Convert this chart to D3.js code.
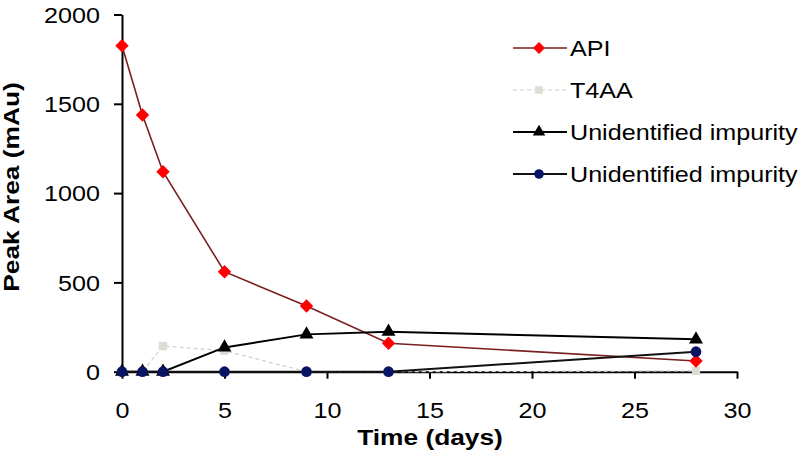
<!DOCTYPE html>
<meta charset="utf-8">
<script src="https://d3js.org/d3.v7.min.js"></script>
<style>
  body { margin: 0; background: #fff; }
  text { font-family: "Liberation Sans", Arial, sans-serif; }
</style>
<div id="chart"></div>
<script>
// data
var days = [0, 1, 2, 5, 9, 13, 28];
var api = [1825, 1437, 1120, 560, 368, 159, 60];
var t4aa = [0, 0, 144, 118, 0, 0, 5];
var impurityA = [0, 0, 0, 136, 209, 224, 181];
var impurityB = [0, 0, 0, 0, 0, 0, 112];
var xTicks = [0, 5, 10, 15, 20, 25, 30];
var yTicks = [0, 500, 1000, 1500, 2000];
var seriesNames = ["API", "T4AA", "Unidentified impurity", "Unidentified impurity"];

var W = 799, H = 453;
var stretch = 1.17; // the reference text is wide, so squeeze Arial out sideways
var svg = d3.select("#chart").append("svg")
    .attr("width", W).attr("height", H);

var x = d3.scaleLinear().domain([0, 30]).range([122, 737]);
var y = d3.scaleLinear().domain([0, 2000]).range([371.7, 14.5]);

// axes
var xAxis = svg.append("g")
    .attr("transform", "translate(0," + y(0) + ")")
    .call(d3.axisBottom(x).tickValues(xTicks).tickFormat(d3.format("d")).tickSize(7).tickSizeOuter(0));
var yAxis = svg.append("g")
    .attr("transform", "translate(" + x(0) + ",0)")
    .call(d3.axisLeft(y).tickValues(yTicks).tickFormat(d3.format("d")).tickSize(8).tickSizeOuter(0));
[xAxis, yAxis].forEach(function (g) {
  g.select(".domain").attr("stroke", "#000").attr("stroke-width", 2);
  g.selectAll(".tick line").attr("stroke", "#000").attr("stroke-width", 2);
  g.selectAll(".tick text").attr("fill", "#000").style("font-size", "21.5px")
    .style("font-family", "'Liberation Sans', Arial, sans-serif")
    .attr("transform", "scale(" + stretch + ",1)");
});
xAxis.selectAll(".tick text").attr("y", 39).attr("dy", "0.36em");
yAxis.selectAll(".tick text").attr("x", -22 / stretch).attr("dy", "0.36em");

// axis titles
svg.append("text")
    .attr("transform", "translate(430,445) scale(" + stretch + ",1)")
    .attr("text-anchor", "middle")
    .style("font-size", "22.5px").style("font-weight", "bold")
    .text("Time (days)");
svg.append("text")
    .attr("transform", "translate(19,187) rotate(-90) scale(" + stretch + ",1)")
    .attr("text-anchor", "middle")
    .style("font-size", "22.5px").style("font-weight", "bold")
    .text("Peak Area (mAu)");

var diamond = {draw: function (ctx, size) {
  var r = Math.sqrt(size / 2);
  ctx.moveTo(0, -r); ctx.lineTo(r, 0); ctx.lineTo(0, r); ctx.lineTo(-r, 0); ctx.closePath();
}};

var series = [
  {name: seriesNames[0], values: api, line: "#7a1f1f", fill: "#ff0000", dash: null, sym: diamond, size: 90, lw: 1.6},
  {name: seriesNames[1], values: t4aa, line: "#d0d0d0", fill: "#dcdcd0", dash: "4,3", sym: d3.symbolSquare, size: 70, lw: 1.2},
  {name: seriesNames[2], values: impurityA, line: "#000", fill: "#000", dash: null, sym: d3.symbolTriangle, size: 85, lw: 2},
  {name: seriesNames[3], values: impurityB, line: "#111", fill: "#0a1464", dash: null, sym: d3.symbolCircle, size: 90, lw: 2}
];

var line = d3.line()
    .x(function (d, i) { return x(days[i]); })
    .y(function (d) { return y(d); });

var order = [1, 0, 2, 3];
order.forEach(function (k) {
  var s = series[k];
  svg.append("path")
      .attr("d", line(s.values))
      .attr("fill", "none")
      .attr("stroke", s.line)
      .attr("stroke-width", s.lw)
      .attr("stroke-dasharray", s.dash);
});
order.forEach(function (k) {
  var s = series[k];
  svg.append("g").selectAll("path")
    .data(s.values)
    .enter().append("path")
      .attr("d", d3.symbol().type(s.sym).size(s.size))
      .attr("transform", function (d, i) { return "translate(" + x(days[i]) + "," + y(d) + ")"; })
      .attr("fill", s.fill);
});

// legend
var legend = svg.append("g");
series.forEach(function (s, i) {
  var ly = 48 + i * 42;
  legend.append("line")
      .attr("x1", 513).attr("x2", 567).attr("y1", ly).attr("y2", ly)
      .attr("stroke", s.line).attr("stroke-width", s.lw)
      .attr("stroke-dasharray", s.dash);
  legend.append("path")
      .attr("d", d3.symbol().type(s.sym).size(s.size * 0.8))
      .attr("transform", "translate(539," + ly + ")")
      .attr("fill", s.fill);
  legend.append("text")
      .attr("transform", "translate(570," + ly + ") scale(" + stretch + ",1)")
      .attr("dy", "0.36em")
      .style("font-size", "21.5px")
      .text(s.name);
});
</script>
